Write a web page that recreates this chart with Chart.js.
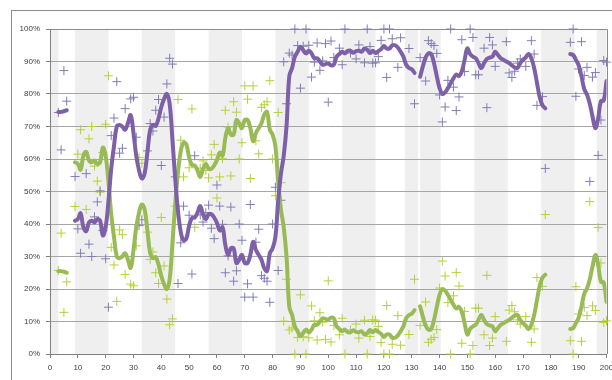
<!DOCTYPE html>
<html><head><meta charset="utf-8">
<script src="https://cdn.jsdelivr.net/npm/chart.js@4/dist/chart.umd.min.js"></script>
<style>html,body{margin:0;padding:0;background:#fff;}#wrap{width:612px;height:380px;}</style>
</head><body><div id="wrap"><canvas id="c" width="612" height="380"></canvas></div>
<script>
// index of each array = x value (0..200)
const purpleTrend = [
 null,null,null,74.5,74.5,74.7,75,null,null,41,
 41.5,43.3,39,37.8,40.5,41,40.5,41.5,41,36.5,
 39,47,57,64,70,70.5,70,69,71,73.5,
 68,61,56.5,54,55.5,62,69,70.5,70.2,72.5,
 76,78.5,80,77,66,54,44,37.5,35,35.5,
 39.5,41.8,42,43.5,45.5,43,41.5,43,43,42,
 40.3,38,39,33.6,30.5,32.5,32.5,28,29,30.5,
 28,28,30.5,34.5,32,30.5,29,26.4,25.5,31,
 32.5,36,47,55.5,61,70,85.5,88,91.5,93,
 94.5,93.5,92.5,93.3,92.5,91,91,90,89,89.2,
 89.4,88.8,89,91.5,92.3,93,92.5,93.3,93.3,92.7,
 93.2,93.3,93,94,93.6,92.6,93.3,92.6,93.2,93.8,
 94.8,94,94,95,95,94.3,93,91.5,89,88,
 87.6,86.5,null,85.3,88.5,91.2,92.5,92.3,89.5,85.5,
 81.8,80,80.5,81.8,83.3,84.8,86,85.5,87,90.5,
 94,92.3,91.5,91,89.5,88,89.5,90.8,91.2,91.5,
 93,92,91,90.5,90,89.5,88.8,88.2,88,89.5,
 90.5,91.3,92.3,91,88,83.5,79,76.5,75.6,null,
 null,null,null,null,null,null,null,92.3,92,90.5,
 88.8,85.5,81.5,79.8,77,73,69.5,72.5,77.8,78,
 84
];
const greenTrend = [
 null,null,null,25.5,25.5,25.3,25,null,null,59,
 58.5,56.7,61,62.2,59.5,59,59.5,58.5,59,63.5,
 61,53,43,36,30,29.5,30,31,29,26.5,
 32,39,43.5,46,44.5,38,31,29.5,29.8,27.5,
 24,21.5,20,23,34,46,56,62.5,65,64.5,
 60.5,58.2,58,56.5,54.5,57,58.5,57,57,58,
 59.7,62,61,66.4,69.5,67.5,67.5,72,71,69.5,
 72,72,69.5,65.5,68,69.5,71,73.6,74.5,69,
 67.5,64,53,44.5,39,30,14.5,12,8.5,7,
 5.5,6.5,7.5,6.7,7.5,9,9,10,11,10.8,
 10.6,11.2,11,8.5,7.7,7,7.5,6.7,6.7,7.3,
 6.8,6.7,7,6,6.4,7.4,6.7,7.4,6.8,6.2,
 5.2,6,6,5,5,5.7,7,8.5,11,12,
 12.4,13.5,null,14.7,11.5,8.8,7.5,7.7,10.5,14.5,
 18.2,20,19.5,18.2,16.7,15.2,14,14.5,13,9.5,
 6,7.7,8.5,9,10.5,12,10.5,9.2,8.8,8.5,
 7,8,9,9.5,10,10.5,11.2,11.8,12,10.5,
 9.5,8.7,7.7,9,12,16.5,21,23.5,24.4,null,
 null,null,null,null,null,null,null,7.7,8,9.5,
 11.2,14.5,18.5,20.2,23,27,30.5,27.5,22.2,22,
 16
];
const purplePoints = [
 null,null,null,74.3,62.8,87.2,77.8,null,null,54.6,
 38.5,31,null,55.5,33.8,30,42.2,46.8,50.2,38,
 29.3,14.4,67.2,72.6,83.8,61.8,63.3,75.5,null,78.5,
 79,66.7,39.5,41.3,null,62.5,70.9,68.6,75,78.3,
 58,72.9,83.1,91,89.2,54.5,21.7,34.2,45.5,null,
 42.7,24.6,61,null,42.8,40.6,43.5,45.8,38.7,35.5,
 52,45.5,39.9,25,30.2,45.2,22.4,25.6,40,35,
 17.5,21.6,46,17.5,34.4,38.4,24.1,23.3,22.4,15.9,
 40,51.3,25.7,47.3,89.9,77,92.6,92,100,94.9,
 81.8,94.7,100,95,85.2,89.8,95.7,87.3,90.2,95.5,
 77.5,96.3,91.2,null,94.1,89,100,null,92.6,null,
 90.8,95.1,null,89.6,100,94.6,89.5,89.6,91.5,96.5,
 100,85.1,100,97,null,88.2,97.3,null,null,94,
 null,77,null,91.2,null,84,96.4,95.5,94.9,92.5,
 79.7,71.4,76,84.2,100,82.1,74.9,79.1,96.7,86.9,
 null,100,97.4,85.9,85.9,null,94.1,75.8,97.4,95.1,
 88.5,null,null,null,96.1,86.5,85.1,87,89.5,90.8,
 null,88.5,null,96.4,92.3,76.5,null,79.2,57.1,null,
 null,null,null,null,null,null,null,95.9,100,79.3,
 87.7,96.1,85.7,88.2,53.1,85.2,86.6,61.1,72,90.3,
 89.8
];
const greenPoints = [
 null,null,null,25.7,37.2,12.8,22.2,null,null,45.4,
 61.5,69,null,44.5,66.2,70,57.8,53.2,49.8,62,
 70.7,85.6,32.8,27.4,16.2,38.2,36.7,24.5,null,21.5,
 21,33.3,60.5,58.7,null,37.5,29.1,31.4,25,21.7,
 42,27.1,16.9,9,10.8,45.5,78.3,65.8,54.5,null,
 57.3,75.4,39,null,57.2,59.4,56.5,54.2,61.3,64.5,
 48,54.5,60.1,75,69.8,54.8,77.6,74.4,60,65,
 82.5,78.4,54,82.5,65.6,61.6,75.9,76.7,77.6,84.1,
 60,48.7,74.3,52.7,10.1,23,7.4,8,0,5.1,
 18.2,5.3,0,5,14.8,10.2,4.3,12.7,9.8,4.5,
 22.5,3.7,8.8,null,5.9,11,0,null,7.4,null,
 9.2,4.9,null,10.4,0,5.4,10.5,10.4,8.5,3.5,
 0,14.9,0,3,null,11.8,2.7,null,null,6,
 null,23,null,8.8,null,16,3.6,4.5,5.1,7.5,
 20.3,28.6,24,15.8,0,17.9,25.1,20.9,3.3,13.1,
 null,0,2.6,14.1,14.1,null,5.9,24.2,2.6,4.9,
 11.5,null,null,null,3.9,13.5,14.9,13,10.5,9.2,
 null,11.5,null,3.6,7.7,23.5,null,20.8,42.9,null,
 null,null,null,null,null,null,null,4.1,0,20.7,
 12.3,3.9,14.3,11.8,46.9,14.8,13.4,38.9,28,9.7,
 10.2
];
// shaded background periods (x units)
const shadedStart = [0, 9, 33, 57, 81, 105, 127.5, 133, 152.5, 176.5, 196.5];
const shadedEnd   = [3, 21, 45, 69, 93, 117, 132.3, 140.4, 164.5, 188.5, 200];
const xMin = 0, xMax = 200, xStep = 10;
const yMin = 0, yMax = 100, yStep = 10;

const toXY = arr => arr.map((v, i) => ({x: i, y: v}));
const FONT = {family: 'Liberation Sans', size: 8};

const framePlugin = {
  id: 'frame',
  beforeDraw(chart) {
    const {ctx, chartArea: a, scales: {x}} = chart;
    ctx.save();
    ctx.fillStyle = '#ffffff';
    ctx.fillRect(0, 0, chart.width, chart.height);
    ctx.strokeStyle = '#8c8c8c';
    ctx.lineWidth = 1;
    ctx.strokeRect(11.5, 10.5, chart.width + 40, chart.height + 40);
    ctx.fillStyle = '#efefef';
    shadedStart.forEach((s, i) => {
      const x0 = x.getPixelForValue(s), x1 = x.getPixelForValue(shadedEnd[i]);
      ctx.fillRect(x0, a.top, x1 - x0, a.bottom - a.top);
    });
    ctx.restore();
  },
  beforeDatasetsDraw(chart) {
    const {ctx, chartArea: a} = chart;
    ctx.save();
    ctx.strokeStyle = '#8c8c8c';
    ctx.lineWidth = 1;
    ctx.beginPath();
    ctx.moveTo(a.left, Math.round(a.top) + 0.5);
    ctx.lineTo(Math.round(a.right) + 0.5, Math.round(a.top) + 0.5);
    ctx.lineTo(Math.round(a.right) + 0.5, a.bottom);
    ctx.stroke();
    ctx.restore();
  }
};

const pointStyleOpts = (color) => ({
  showLine: false,
  pointStyle: 'cross',
  pointRadius: 4.5,
  pointBorderWidth: 1,
  pointBorderColor: color,
  pointBackgroundColor: color,
  borderColor: color,
  clip: false
});
const lineOpts = (color) => ({
  borderColor: color,
  borderWidth: 4,
  pointRadius: 0,
  tension: 0.4,
  spanGaps: false,
  borderCapStyle: 'round',
  borderJoinStyle: 'round',
  fill: false
});

new Chart(document.getElementById('c'), {
  type: 'line',
  data: {
    datasets: [
      Object.assign({label: 'purple points', data: toXY(purplePoints), order: 3}, pointStyleOpts('#807db6')),
      Object.assign({label: 'green points', data: toXY(greenPoints), order: 3}, pointStyleOpts('#b3d236')),
      Object.assign({label: 'green trend', data: toXY(greenTrend), order: 1}, lineOpts('#98bb55')),
      Object.assign({label: 'purple trend', data: toXY(purpleTrend), order: 0}, lineOpts('#7d60a8'))
    ]
  },
  options: {
    responsive: false,
    animation: false,
    devicePixelRatio: 1,
    layout: {padding: {top: 29, right: 5, left: 0, bottom: 0}},
    plugins: {legend: {display: false}, tooltip: {enabled: false}},
    scales: {
      x: {
        type: 'linear', min: xMin, max: xMax,
        ticks: {stepSize: xStep, autoSkip: false, maxRotation: 0, font: FONT, color: '#404040', padding: 5},
        grid: {drawOnChartArea: false, tickLength: 4, color: '#808080'},
        border: {color: '#808080'},
        afterFit(s) { s.height = 26; s.paddingLeft = 0; s.paddingRight = 0; }
      },
      y: {
        min: yMin, max: yMax,
        ticks: {stepSize: yStep, font: FONT, color: '#404040', padding: 6, callback: v => v + '%'},
        grid: {color: '#a6a6a6', tickLength: 4, tickColor: '#808080'},
        border: {color: '#808080'},
        afterFit(s) { s.width = 50; }
      }
    }
  },
  plugins: [framePlugin]
});
</script>
</body></html>
